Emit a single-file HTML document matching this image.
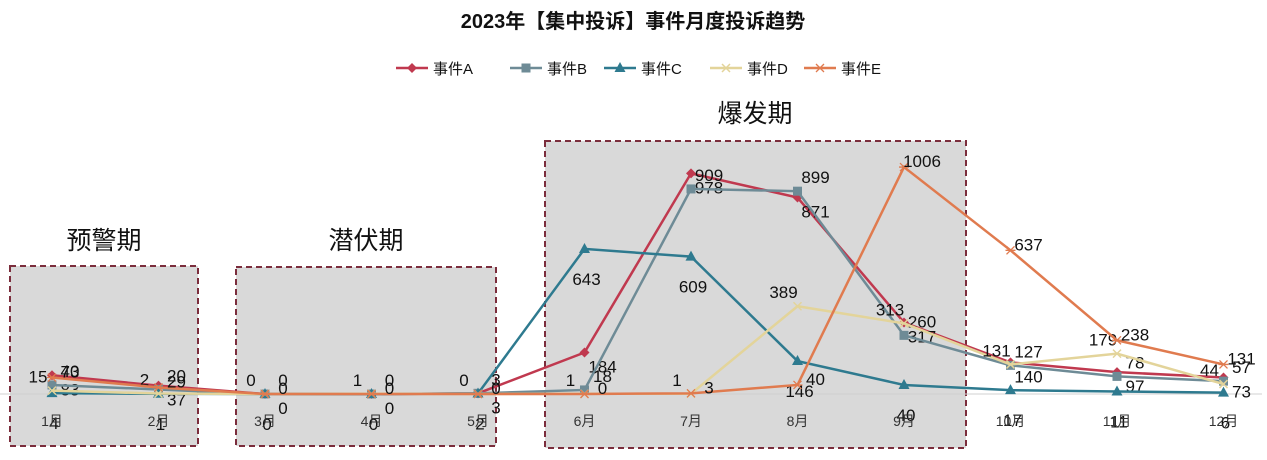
<!DOCTYPE html>
<html><head><meta charset="utf-8">
<style>
body{margin:0;background:#fff;width:1267px;height:455px;overflow:hidden;font-family:"Liberation Sans","Noto Sans CJK SC",sans-serif;}
svg text{font-family:"Liberation Sans","Noto Sans CJK SC",sans-serif;}
</style></head>
<body>
<svg id="chart" width="1267" height="455" xmlns="http://www.w3.org/2000/svg">
<rect x="10" y="266" width="188" height="180" fill="#d9d9d9" stroke="#7b2d3c" stroke-width="2" stroke-dasharray="6,4"/>
<rect x="236" y="267" width="260" height="179" fill="#d9d9d9" stroke="#7b2d3c" stroke-width="2" stroke-dasharray="6,4"/>
<rect x="545" y="141" width="421" height="307" fill="#d9d9d9" stroke="#7b2d3c" stroke-width="2" stroke-dasharray="6,4"/>
<text x="104" y="249" font-size="25" text-anchor="middle" fill="#111">预警期</text>
<text x="366" y="249" font-size="25" text-anchor="middle" fill="#111">潜伏期</text>
<text x="755" y="122" font-size="25" text-anchor="middle" fill="#111">爆发期</text>
<text x="633" y="28" font-size="20" font-weight="bold" text-anchor="middle" fill="#111">2023年【集中投诉】事件月度投诉趋势</text>
<line x1="0" y1="394" x2="1262" y2="394" stroke="#d0d0d0" stroke-width="1"/>
<g id="legend"></g>
<g id="series"></g>
<g id="xlabels"></g>
</svg>
<script>
const months=["1月","2月","3月","4月","5月","6月","7月","8月","9月","10月","11月","12月"];
const seriesNames=["事件A","事件B","事件C","事件D","事件E"];
const valuesA=[83,37,0,0,3,184,978,871,317,140,97,73];
const valuesB=[40,20,0,0,3,18,909,899,260,127,78,57];
const valuesC=[4,1,0,0,2,643,609,146,40,17,11,6];
const valuesD=[15,2,0,1,0,1,1,389,313,131,179,44];
const valuesE=[73,29,0,0,0,0,3,40,1006,637,238,131];
const allValues=[valuesA,valuesB,valuesC,valuesD,valuesE];
const colors=["#c0394f","#6e8b96","#2e7a8f","#e3d49a","#e07b4f"];
const markers=["diamond","square","triangle","x","star"];
const labelOff=[[18,14],[18,-14],[2,30],[-14,-14],[18,-6]];
const NS="http://www.w3.org/2000/svg";
function xScale(i){return 52+i*106.5;}
function yScale(v){return 394-v*0.2256;}
function mk(tag,attrs,parent){const e=document.createElementNS(NS,tag);for(const k in attrs)e.setAttribute(k,attrs[k]);parent.appendChild(e);return e;}
function marker(type,x,y,c,g){
 if(type==="diamond")return mk('polygon',{points:`${x},${y-5} ${x+5},${y} ${x},${y+5} ${x-5},${y}`,fill:c},g);
 if(type==="square")return mk('rect',{x:x-4.5,y:y-4.5,width:9,height:9,fill:c},g);
 if(type==="triangle")return mk('polygon',{points:`${x},${y-6} ${x+5.5},${y+4} ${x-5.5},${y+4}`,fill:c},g);
 if(type==="x")return mk('path',{d:`M${x-4},${y-4}L${x+4},${y+4}M${x-4},${y+4}L${x+4},${y-4}`,stroke:c,'stroke-width':1.5},g);
 return mk('path',{d:`M${x-5},${y}L${x+5},${y}M${x-4},${y-4}L${x+4},${y+4}M${x-4},${y+4}L${x+4},${y-4}`,stroke:c,'stroke-width':1.3},g);
}
const sg=document.getElementById('series');
allValues.forEach((vals,s)=>{
 const g=mk('g',{},sg);
 
 
 const p=mk('polyline',{points:vals.map((v,i)=>xScale(i)+','+yScale(v)).join(' '),fill:'none',stroke:colors[s],'stroke-width':2.5},g);
 
 
 vals.forEach((v,i)=>{
  const m=marker(markers[s],xScale(i),yScale(v),colors[s],g);
  
  
  const t=mk('text',{x:xScale(i)+labelOff[s][0],y:yScale(v)+labelOff[s][1]+6,'font-size':17,'text-anchor':'middle',fill:'#111'},g);
  t.textContent=v;
  
  
 });
});
const xl=document.getElementById('xlabels');
months.forEach((m,i)=>{
 const t=mk('text',{x:xScale(i),y:426,'font-size':14,'text-anchor':'middle',fill:'#333'},xl);
 t.textContent=m;
 
 
});
const lg=document.getElementById('legend');
const lx=[396,510,604,710,804];
seriesNames.forEach((n,s)=>{
 const g=mk('g',{},lg);
 
 
 mk('line',{x1:lx[s],y1:68,x2:lx[s]+32,y2:68,stroke:colors[s],'stroke-width':2.5},g);
 marker(markers[s],lx[s]+16,68,colors[s],g);
 const t=mk('text',{x:lx[s]+37,y:74,'font-size':15,fill:'#111'},g);
 t.textContent=n;
});
</script>
</body></html>
